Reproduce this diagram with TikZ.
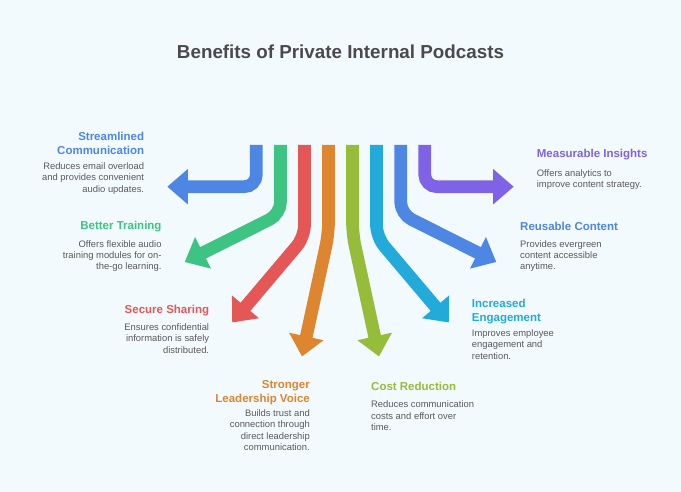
\documentclass[tikz,border=0pt]{standalone}
\usepackage{fontspec}
\setmainfont{Liberation Sans}
\usepackage{tikz}
\usetikzlibrary{arrows.meta}
\definecolor{bgcol}{HTML}{F3FAFE}
\definecolor{titlegray}{HTML}{4A4A4A}
\definecolor{bodygray}{HTML}{595959}
\definecolor{blueA}{HTML}{4E86E4}
\definecolor{greenA}{HTML}{3DC482}
\definecolor{redA}{HTML}{E55656}
\definecolor{orangeA}{HTML}{DE852F}
\definecolor{limeA}{HTML}{95BD3A}
\definecolor{cyanA}{HTML}{22ABDA}
\definecolor{purpleA}{HTML}{7F63E6}

\begin{document}
\begin{tikzpicture}[x=1pt, y=-1pt,
  flow/.style={line width=12.7pt, rounded corners=12pt, -{Triangle[length=20.5pt, width=34pt]}},
  head/.style={inner sep=0pt, font=\fontsize{11.5}{14}\selectfont\bfseries},
  body/.style={inner sep=0pt, text=bodygray, font=\fontsize{9.4}{11.3}\selectfont}]
  \fill[bgcol] (0,0) rectangle (681,492);
  \useasboundingbox (0,0) rectangle (681,492);
  \node[font=\fontsize{18.8}{22}\selectfont\bfseries, text=titlegray, anchor=base] (title) at (340.5,58.3) {Benefits of Private Internal Podcasts};

  % stems, bends and tips
  \coordinate (s1) at (256.3,145);  \coordinate (b1) at (256.3,186.7); \coordinate (t1) at (167.3,186.7);
  \coordinate (s2) at (280.5,145);  \coordinate (b2) at (280.5,214);   \coordinate (t2) at (184.7,262);
  \coordinate (s3) at (304.5,145);  \coordinate (b3) at (304.5,237);   \coordinate (t3) at (232.2,322.5);
  \coordinate (s4) at (328.5,145);  \coordinate (b4) at (328.5,234);   \coordinate (t4) at (302,356.5);
  \coordinate (s5) at (352.5,145);  \coordinate (b5) at (352.5,234);   \coordinate (t5) at (379,356.5);
  \coordinate (s6) at (376.5,145);  \coordinate (b6) at (376.5,237);   \coordinate (t6) at (448.8,322.5);
  \coordinate (s7) at (400.7,145);  \coordinate (b7) at (400.7,214);   \coordinate (t7) at (496.3,262);
  \coordinate (s8) at (424.8,145);  \coordinate (b8) at (424.8,186.7); \coordinate (t8) at (513.7,186.7);

  \draw[flow, blueA] (s1) -- (b1) -- (t1);
  \draw[flow, greenA] (s2) -- (b2) -- (t2);
  \draw[flow, redA] (s3) -- (b3) -- (t3);
  \draw[flow, orangeA] (s4) -- (b4) -- (t4);
  \draw[flow, limeA] (s5) -- (b5) -- (t5);
  \draw[flow, cyanA] (s6) -- (b6) -- (t6);
  \draw[flow, blueA] (s7) -- (b7) -- (t7);
  \draw[flow, purpleA] (s8) -- (b8) -- (t8);

  % left labels
  \node[head, text=blueA, anchor=north east, align=right] (h1) at (144.3,131.7) {Streamlined\\Communication};
  \node[body, anchor=north east, align=right] (d1) at (144.3,162.5) {Reduces email overload\\and provides convenient\\audio updates.};
  \node[head, text=greenA, anchor=north east, align=right] (h2) at (161.7,221) {Better Training};
  \node[body, anchor=north east, align=right] (d2) at (161.7,240) {Offers flexible audio\\training modules for on-\\the-go learning.};
  \node[head, text=redA, anchor=north east, align=right] (h3) at (209.3,305) {Secure Sharing};
  \node[body, anchor=north east, align=right] (d3) at (209.3,323.4) {Ensures confidential\\information is safely\\distributed.};
  \node[head, text=orangeA, anchor=north east, align=right] (h4) at (310,380) {Stronger\\Leadership Voice};
  \node[body, anchor=north east, align=right] (d4) at (310,409.4) {Builds trust and\\connection through\\direct leadership\\communication.};

  % right labels
  \node[head, text=limeA, anchor=north west, align=left] (h5) at (371,382) {Cost Reduction};
  \node[body, anchor=north west, align=left] (d5) at (371,400.7) {Reduces communication\\costs and effort over\\time.};
  \node[head, text=cyanA, anchor=north west, align=left] (h6) at (471.7,298.5) {Increased\\Engagement};
  \node[body, anchor=north west, align=left] (d6) at (471.7,329.4) {Improves employee\\engagement and\\retention.};
  \node[head, text=blueA, anchor=north west, align=left] (h7) at (520,221.5) {Reusable Content};
  \node[body, anchor=north west, align=left] (d7) at (520,240) {Provides evergreen\\content accessible\\anytime.};
  \node[head, text=purpleA, anchor=north west, align=left] (h8) at (536.7,149) {Measurable Insights};
  \node[body, anchor=north west, align=left] (d8) at (536.7,169) {Offers analytics to\\improve content strategy.};
\end{tikzpicture}
\end{document}
